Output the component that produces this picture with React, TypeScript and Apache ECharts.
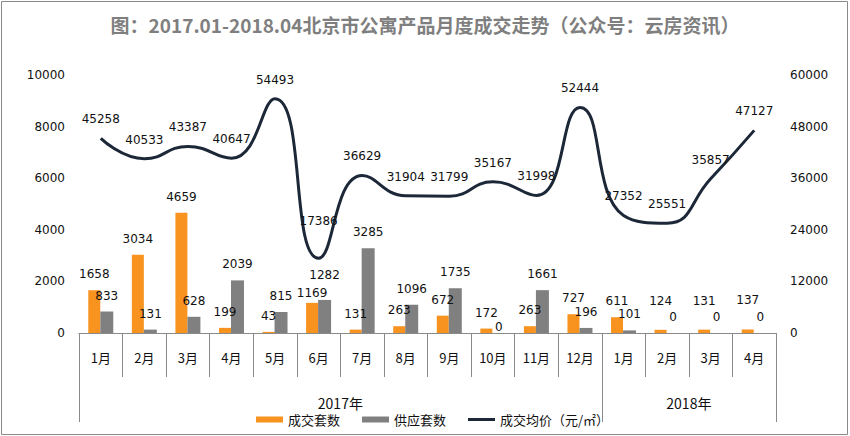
import React, { useEffect, useRef } from "react";
import * as echarts from "echarts";

const months = ["1月", "2月", "3月", "4月", "5月", "6月", "7月", "8月", "9月", "10月", "11月", "12月", "1月", "2月", "3月", "4月"];
const years = ["2017年", "2018年"];
const yearCounts = [12, 4];
const sales = [1658, 3034, 4659, 199, 43, 1169, 131, 263, 672, 172, 263, 727, 611, 124, 131, 137];
const supply = [833, 131, 628, 2039, 815, 1282, 3285, 1096, 1735, 0, 1661, 196, 101, 0, 0, 0];
const price = [45258, 40533, 43387, 40647, 54493, 17386, 36629, 31904, 31799, 35167, 31998, 52444, 27352, 25551, 35857, 47127];
const leftTicks = { min: 0, max: 10000, interval: 2000 };
const rightTicks = { min: 0, max: 60000, interval: 12000 };

const NUM_FONT = "DejaVu Sans";
const CJK_FONT = "Noto Sans CJK SC";
const ORANGE = "#F7931E";
const GRAY = "#808080";
const NAVY = "#1c2838";
const LINE_GRAY = "#8a8a8a";

export default function App() {
  const ref = useRef<HTMLDivElement>(null);
  useEffect(() => {
    if (!ref.current) return;
    const chart = echarts.init(ref.current, undefined, { renderer: "svg" });
    const labelBase = { show: true, position: "top" as const, color: "#111", fontFamily: NUM_FONT, fontSize: 12 };
    const salesData = sales.map((v, i) =>
      i === 5 ? { value: v, label: { offset: [0, 6] } } : i >= 13 ? { value: v, label: { offset: [0, -13] } } : v
    );
    const supplyData = supply.map((v, i) =>
      i === 5 ? { value: v, label: { offset: [0, -9] } } : i === 9 ? { value: v, label: { offset: [0, 10] } } : v
    );
    const priceData = price.map((v, i) => (i === 5 ? { value: v, label: { offset: [0, -18] } } : v));
    chart.setOption({
      animation: false,
      title: {
        text: "图：2017.01-2018.04北京市公寓产品月度成交走势（公众号：云房资讯）",
        left: "center",
        top: 10,
        textStyle: { fontFamily: CJK_FONT, fontSize: 19, fontWeight: "bold", color: "#7f7f7f" },
      },
      grid: { left: 79, right: 74, top: 75, bottom: 103 },
      legend: {
        left: 251,
        top: 408,
        itemWidth: 27,
        itemHeight: 6,
        itemGap: 22,
        textStyle: { fontFamily: CJK_FONT, fontSize: 13, color: "#111" },
        data: [
          { name: "成交套数", icon: "rect" },
          { name: "供应套数", icon: "rect" },
          { name: "成交均价（元/㎡）", icon: "path://M0,0 L27,0 L27,3 L0,3 Z" },
        ],
      },
      xAxis: {
        type: "category",
        data: months,
        axisLine: { lineStyle: { color: LINE_GRAY, width: 1 } },
        axisTick: { show: true, interval: 0, length: 44, lineStyle: { color: LINE_GRAY } },
        axisLabel: { interval: 0, margin: 18, fontFamily: CJK_FONT, fontSize: 13, color: "#111" },
      },
      yAxis: [
        {
          type: "value",
          ...leftTicks,
          splitLine: { show: false },
          axisLine: { show: false },
          axisTick: { show: false },
          axisLabel: { margin: 14, fontFamily: NUM_FONT, fontSize: 12, color: "#111", formatter: (v: number) => String(v) },
        },
        {
          type: "value",
          ...rightTicks,
          splitLine: { show: false },
          axisLine: { show: false },
          axisTick: { show: false },
          axisLabel: { margin: 14, fontFamily: NUM_FONT, fontSize: 12, color: "#111", formatter: (v: number) => String(v) },
        },
      ],
      series: [
        {
          name: "成交套数",
          type: "bar",
          data: salesData,
          barWidth: 12,
          barGap: "0%",
          itemStyle: { color: ORANGE },
          label: { ...labelBase, distance: 10 },
        },
        {
          name: "供应套数",
          type: "bar",
          data: supplyData,
          barWidth: 13,
          barGap: "0%",
          itemStyle: { color: GRAY },
          label: { ...labelBase, distance: 10 },
        },
        {
          name: "成交均价（元/㎡）",
          type: "line",
          yAxisIndex: 1,
          data: priceData,
          smooth: 0.5,
          symbol: "circle",
          symbolSize: 0,
          showSymbol: true,
          lineStyle: { color: NAVY, width: 3 },
          itemStyle: { color: NAVY },
          label: { ...labelBase, distance: 13 },
        },
      ],
    });

    const x0 = chart.convertToPixel({ xAxisIndex: 0 }, 0) as number;
    const x1 = chart.convertToPixel({ xAxisIndex: 0 }, 1) as number;
    const band = x1 - x0;
    const left = x0 - band / 2;
    const yBase = chart.convertToPixel({ yAxisIndex: 0 }, 0) as number;
    const elements: any[] = [];
    let start = 0;
    const bounds = [0];
    yearCounts.forEach((c) => {
      start += c;
      bounds.push(start);
    });
    bounds.forEach((b) => {
      const x = Math.round(left + b * band) + 0.5;
      elements.push({
        type: "line",
        shape: { x1: x, y1: yBase, x2: x, y2: yBase + 89 },
        style: { stroke: LINE_GRAY, lineWidth: 1 },
        silent: true,
      });
    });
    years.forEach((y, i) => {
      const cx = left + ((bounds[i] + bounds[i + 1]) / 2) * band;
      elements.push({
        type: "text",
        x: cx,
        y: yBase + 70,
        style: {
          text: y,
          fill: "#111",
          font: `14px "${CJK_FONT}"`,
          align: "center",
          verticalAlign: "middle",
        },
        silent: true,
      });
    });
    elements.push({
      type: "rect",
      shape: { x: 1.5, y: 1.5, width: 846, height: 433 },
      style: { fill: "none", stroke: LINE_GRAY, lineWidth: 1 },
      silent: true,
    });
    chart.setOption({ graphic: { elements } });

    return () => chart.dispose();
  }, []);
  return (
    <div
      ref={ref}
      style={{ position: "fixed", left: 0, top: 0, width: 850, height: 436, background: "#fff" }}
    />
  );
}
